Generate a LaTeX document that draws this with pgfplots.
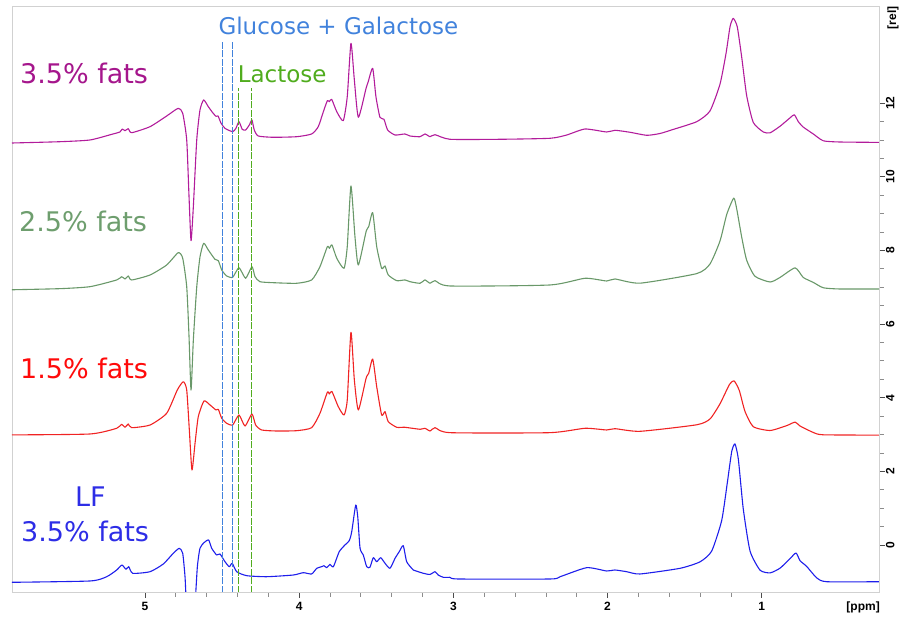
\documentclass[border=0pt]{standalone}
\usepackage{pgfplots}
\pgfplotsset{compat=1.18}
\usepackage{fontspec}
\setmainfont{DejaVu Sans}
\newfontfamily\tickfont{Liberation Sans}
\definecolor{magl}{RGB}{178,28,155}
\definecolor{magt}{RGB}{165,22,140}
\definecolor{grnl}{RGB}{105,152,105}
\definecolor{grnt}{RGB}{110,158,110}
\definecolor{redl}{RGB}{240,35,35}
\definecolor{redt}{RGB}{255,10,10}
\definecolor{blul}{RGB}{30,30,235}
\definecolor{blut}{RGB}{45,45,230}
\definecolor{glu}{RGB}{65,130,220}
\definecolor{lac}{RGB}{80,172,30}
\begin{document}
\begin{tikzpicture}
\begin{axis}[
  scale only axis, width=867pt, height=586pt,
  x dir=reverse, xmin=0.24, xmax=5.862, ymin=-1.276, ymax=14.635,
  clip mode=individual,
  axis line style={draw=black!18, line width=0.8pt},
  xtick={1,2,3,4,5}, minor x tick num=4,
  ytick={0,2,...,12}, minor y tick num=3,
  xtick pos=bottom, ytick pos=right, yticklabel pos=right,
  tick align=outside,
  major tick length=6pt, minor tick length=5pt,
  major tick style={black!70, line width=0.8pt},
  minor tick style={black!45, line width=0.7pt},
  /pgf/number format/assume math mode=true,
  xticklabel style={font=\tickfont\bfseries\fontsize{12}{12}\selectfont, yshift=-1pt},
  yticklabel shift=13pt,
  yticklabel style={font=\tickfont\bfseries\fontsize{12}{12}\selectfont, rotate=90, anchor=south},
  every axis plot/.append style={line width=1.1pt, line join=round, smooth, tension=0.35},
]
% 3.5% fats (magenta)
\addplot[magl] coordinates {
(5.862,10.915) (5.551,10.95) (5.356,10.997) (5.207,11.160) (5.162,11.214) (5.147,11.295) (5.129,11.249) (5.108,11.304) (5.086,11.195) (4.967,11.358) (4.859,11.648) (4.784,11.857) (4.755,11.722) (4.729,10.997) (4.714,9.457) (4.701,8.263) (4.686,9.186) (4.664,10.997) (4.643,11.811) (4.619,12.083) (4.589,11.901) (4.559,11.73) (4.539,11.64) (4.526,11.65) (4.507,11.458) (4.481,11.314) (4.431,11.222) (4.410,11.314) (4.390,11.494) (4.369,11.287) (4.347,11.268) (4.323,11.404) (4.306,11.540) (4.291,11.268) (4.265,11.105) (4.168,11.070) (4.016,11.086) (3.919,11.160) (3.876,11.358) (3.843,11.765) (3.817,12.064) (3.804,12.037) (3.789,12.102) (3.756,11.765) (3.714,11.521) (3.688,12.172) (3.664,13.622) (3.642,12.626) (3.616,11.613) (3.566,12.400) (3.552,12.580) (3.523,12.943) (3.502,12.172) (3.476,11.613) (3.450,11.559) (3.426,11.268) (3.378,11.132) (3.314,11.160) (3.281,11.105) (3.216,11.086) (3.184,11.160) (3.151,11.086) (3.119,11.141) (3.022,11.016) (2.697,11.016) (2.373,11.043) (2.265,11.132) (2.146,11.295) (2.006,11.214) (1.952,11.260) (1.854,11.206) (1.746,11.124) (1.660,11.173) (1.574,11.284) (1.422,11.494) (1.336,11.784) (1.271,12.512) (1.232,13.343) (1.206,14.070) (1.185,14.298) (1.159,14.070) (1.130,13.240) (1.098,12.200) (1.055,11.472) (0.990,11.214) (0.946,11.192) (0.882,11.369) (0.817,11.597) (0.789,11.681) (0.763,11.494) (0.731,11.347) (0.666,11.160) (0.601,10.975) (0.493,10.942) (0.240,10.932)
};
% 2.5% fats (green)
\addplot[grnl] coordinates {
(5.862,6.93) (5.551,6.96) (5.356,7.014) (5.183,7.196) (5.151,7.285) (5.129,7.223) (5.108,7.304) (5.086,7.196) (4.967,7.331) (4.859,7.603) (4.784,7.937) (4.755,7.785) (4.729,7.014) (4.714,5.656) (4.701,4.209) (4.686,5.566) (4.664,7.006) (4.643,7.820) (4.619,8.192) (4.589,8.010) (4.546,7.758) (4.524,7.720) (4.502,7.467) (4.470,7.304) (4.431,7.269) (4.390,7.529) (4.347,7.242) (4.306,7.557) (4.286,7.285) (4.254,7.149) (4.168,7.122) (4.016,7.106) (3.919,7.196) (3.865,7.557) (3.817,8.100) (3.804,8.056) (3.787,8.146) (3.756,7.785) (3.709,7.513) (3.688,8.100) (3.664,9.748) (3.638,8.371) (3.616,7.603) (3.566,8.507) (3.549,8.643) (3.523,9.023) (3.497,8.100) (3.465,7.513) (3.443,7.576) (3.422,7.331) (3.367,7.177) (3.314,7.196) (3.281,7.149) (3.216,7.106) (3.184,7.196) (3.151,7.106) (3.119,7.177) (3.022,7.033) (2.373,7.060) (2.146,7.242) (2.006,7.168) (1.952,7.223) (1.790,7.109) (1.422,7.369) (1.336,7.630) (1.271,8.254) (1.227,8.979) (1.182,9.417) (1.163,9.134) (1.130,8.355) (1.098,7.733) (1.044,7.296) (0.946,7.141) (0.882,7.264) (0.784,7.524) (0.731,7.264) (0.666,7.130) (0.601,6.984) (0.493,6.951) (0.240,6.951)
};
% 1.5% fats (red)
\addplot[redl] coordinates {
(5.862,2.99) (5.356,3.014) (5.183,3.169) (5.151,3.278) (5.129,3.196) (5.108,3.286) (5.086,3.185) (4.967,3.258) (4.859,3.576) (4.790,4.209) (4.751,4.434) (4.729,4.209) (4.712,3.123) (4.695,2.037) (4.675,2.762) (4.654,3.484) (4.617,3.910) (4.578,3.802) (4.539,3.666) (4.524,3.684) (4.502,3.440) (4.470,3.305) (4.431,3.258) (4.390,3.530) (4.351,3.231) (4.306,3.557) (4.282,3.258) (4.243,3.123) (4.146,3.095) (4.016,3.104) (3.919,3.185) (3.865,3.576) (3.817,4.146) (3.804,4.100) (3.787,4.163) (3.746,3.755) (3.709,3.530) (3.688,3.937) (3.664,5.775) (3.642,4.480) (3.616,3.666) (3.566,4.526) (3.549,4.662) (3.523,5.050) (3.497,4.299) (3.465,3.530) (3.443,3.620) (3.422,3.348) (3.367,3.196) (3.314,3.196) (3.216,3.142) (3.184,3.169) (3.151,3.095) (3.119,3.185) (3.022,3.050) (2.373,3.050) (2.146,3.169) (2.006,3.123) (1.952,3.158) (1.790,3.087) (1.422,3.264) (1.336,3.421) (1.271,3.834) (1.210,4.355) (1.180,4.458) (1.146,4.198) (1.109,3.628) (1.055,3.212) (0.946,3.109) (0.838,3.242) (0.784,3.337) (0.752,3.231) (0.666,3.055) (0.601,2.992) (0.240,2.984)
};
% LF 3.5% fats (blue)
\addplot[blul] coordinates {
(5.864,-1.013) (5.356,-0.977) (5.248,-0.861) (5.183,-0.679) (5.149,-0.543) (5.123,-0.660) (5.105,-0.589) (5.079,-0.768) (4.967,-0.725) (4.881,-0.516) (4.816,-0.225) (4.777,-0.089) (4.755,-0.225) (4.740,-0.861) (4.731,-1.6) (4.705,-3) (4.675,-1.6) (4.660,-0.589) (4.643,-0.089) (4.617,0.063) (4.587,0.136) (4.567,-0.089) (4.535,-0.271) (4.513,-0.244) (4.481,-0.453) (4.453,-0.589) (4.434,-0.497) (4.405,-0.725) (4.340,-0.833) (4.210,-0.861) (4.038,-0.815) (3.973,-0.752) (3.919,-0.787) (3.886,-0.633) (3.854,-0.589) (3.839,-0.562) (3.821,-0.616) (3.800,-0.524) (3.778,-0.589) (3.740,-0.182) (3.703,0.000) (3.675,0.117) (3.659,0.361) (3.633,1.086) (3.620,0.768) (3.605,-0.089) (3.584,-0.271) (3.562,-0.589) (3.541,-0.605) (3.519,-0.345) (3.497,-0.453) (3.471,-0.345) (3.443,-0.497) (3.411,-0.633) (3.378,-0.361) (3.351,-0.182) (3.325,-0.019) (3.303,-0.45) (3.270,-0.633) (3.260,-0.679) (3.195,-0.768) (3.151,-0.80) (3.119,-0.725) (3.098,-0.815) (3.065,-0.877) (3.022,-0.877) (2.968,-0.923) (2.373,-0.923) (2.308,-0.861) (2.135,-0.616) (2.006,-0.706) (1.952,-0.679) (1.876,-0.725) (1.790,-0.787) (1.530,-0.633) (1.400,-0.456) (1.325,-0.166) (1.260,0.665) (1.223,1.705) (1.195,2.536) (1.174,2.745) (1.152,2.330) (1.120,0.977) (1.076,-0.166) (1.011,-0.684) (0.946,-0.757) (0.882,-0.630) (0.817,-0.372) (0.778,-0.217) (0.752,-0.426) (0.709,-0.581) (0.644,-0.893) (0.579,-0.997) (0.240,-0.997)
};
% marker lines
\addplot[glu, line width=1.1pt, sharp plot, dash pattern=on 7pt off 1.5pt] coordinates {(4.498,-1.3) (4.498,13.666)};
\addplot[glu, line width=1.1pt, sharp plot, dash pattern=on 7pt off 1.5pt] coordinates {(4.435,-1.3) (4.435,13.666)};
\addplot[lac, line width=1.1pt, sharp plot, dash pattern=on 7pt off 1.5pt] coordinates {(4.395,-1.3) (4.395,12.40)};
\addplot[lac, line width=1.1pt, sharp plot, dash pattern=on 7pt off 1.5pt] coordinates {(4.308,-1.3) (4.308,12.40)};
% labels
\node[anchor=base west, inner sep=0, text=magt, font=\fontsize{27}{27}\selectfont] at (axis cs:5.810,12.531) {3.5\% fats};
\node[anchor=base west, inner sep=0, text=grnt, font=\fontsize{27}{27}\selectfont] at (axis cs:5.817,8.507) {2.5\% fats};
\node[anchor=base west, inner sep=0, text=redt, font=\fontsize{27}{27}\selectfont] at (axis cs:5.810,4.526) {1.5\% fats};
\node[anchor=base west, inner sep=0, text=blut, font=\fontsize{27}{27}\selectfont] at (axis cs:5.454,1.040) {LF};
\node[anchor=base west, inner sep=0, text=blut, font=\fontsize{27}{27}\selectfont] at (axis cs:5.804,0.090) {3.5\% fats};
\node[anchor=base west, inner sep=0, text=glu, font=\fontsize{23}{23}\selectfont] at (axis cs:4.524,13.848) {Glucose + Galactose};
\node[anchor=base west, inner sep=0, text=lac, font=\fontsize{23}{23}\selectfont] at (axis cs:4.399,12.553) {Lactose};
\node[font=\tickfont\bfseries\fontsize{12}{12}\selectfont, inner sep=0] at ([yshift=-15pt]axis cs:0.343,-1.276) {[ppm]};
\node[font=\tickfont\bfseries\fontsize{12}{12}\selectfont, inner sep=0, rotate=90] at ([shift={(14pt,-12pt)}]rel axis cs:1,1) {[rel]};
\end{axis}
\pgfresetboundingbox
\path[use as bounding box] ([shift={(-12pt,-31pt)}]current axis.south west) rectangle ([shift={(25pt,6pt)}]current axis.north east);
\end{tikzpicture}
\end{document}
